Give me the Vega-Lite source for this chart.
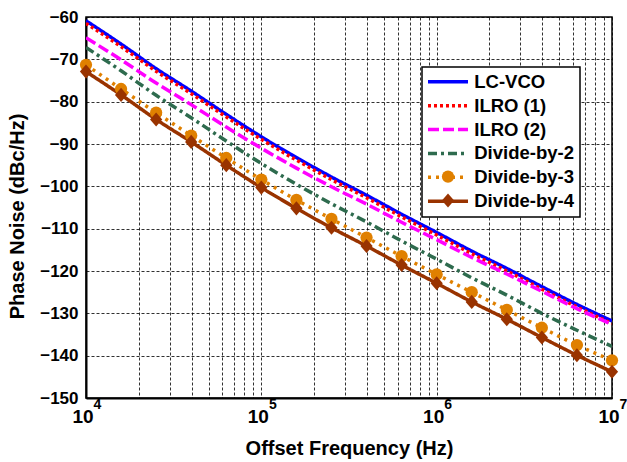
{
  "$schema": "https://vega.github.io/schema/vega-lite/v6.json",
  "width": 526,
  "height": 381,
  "autosize": {"type": "none"},
  "padding": {"left": 86, "top": 17, "right": 15, "bottom": 64},
  "background": "white",
  "config": {
    "font": "Liberation Sans",
    "view": {"stroke": "black", "strokeWidth": 1.5},
    "axis": {
      "labelFont": "Liberation Sans", "labelFontWeight": "bold", "labelColor": "black",
      "titleFont": "Liberation Sans", "titleFontWeight": "bold", "titleColor": "black",
      "domainColor": "black", "domainWidth": 2,
      "gridColor": "black", "gridDash": [3, 2], "gridWidth": 0.9, "gridOpacity": 0.9,
      "ticks": false
    },
    "legend": {"labelFont": "Liberation Sans", "labelFontWeight": "bold", "labelColor": "black", "labelFontSize": 18.5, "strokeWidth": 1.5}
  },
  "resolve": {"axis": {"x": "independent"}},
  "data": {"values": [
    {"f": 10000, "pn": -60.9, "s": "LC-VCO"},
    {"f": 15849, "pn": -66.4, "s": "LC-VCO"},
    {"f": 25119, "pn": -72.2, "s": "LC-VCO"},
    {"f": 39811, "pn": -77.5, "s": "LC-VCO"},
    {"f": 63096, "pn": -83.0, "s": "LC-VCO"},
    {"f": 100000, "pn": -88.3, "s": "LC-VCO"},
    {"f": 158489, "pn": -93.2, "s": "LC-VCO"},
    {"f": 251189, "pn": -97.8, "s": "LC-VCO"},
    {"f": 398107, "pn": -102.1, "s": "LC-VCO"},
    {"f": 630957, "pn": -106.6, "s": "LC-VCO"},
    {"f": 1000000, "pn": -110.9, "s": "LC-VCO"},
    {"f": 1584893, "pn": -115.3, "s": "LC-VCO"},
    {"f": 2511886, "pn": -119.4, "s": "LC-VCO"},
    {"f": 3981072, "pn": -123.7, "s": "LC-VCO"},
    {"f": 6309573, "pn": -127.9, "s": "LC-VCO"},
    {"f": 10000000, "pn": -131.8, "s": "LC-VCO"},
    {"f": 10000, "pn": -61.5, "s": "ILRO (1)"},
    {"f": 15849, "pn": -67.0, "s": "ILRO (1)"},
    {"f": 25119, "pn": -72.8, "s": "ILRO (1)"},
    {"f": 39811, "pn": -78.1, "s": "ILRO (1)"},
    {"f": 63096, "pn": -83.6, "s": "ILRO (1)"},
    {"f": 100000, "pn": -88.9, "s": "ILRO (1)"},
    {"f": 158489, "pn": -93.8, "s": "ILRO (1)"},
    {"f": 251189, "pn": -98.4, "s": "ILRO (1)"},
    {"f": 398107, "pn": -102.7, "s": "ILRO (1)"},
    {"f": 630957, "pn": -107.2, "s": "ILRO (1)"},
    {"f": 1000000, "pn": -111.5, "s": "ILRO (1)"},
    {"f": 1584893, "pn": -115.9, "s": "ILRO (1)"},
    {"f": 2511886, "pn": -120.0, "s": "ILRO (1)"},
    {"f": 3981072, "pn": -124.3, "s": "ILRO (1)"},
    {"f": 6309573, "pn": -128.5, "s": "ILRO (1)"},
    {"f": 10000000, "pn": -132.4, "s": "ILRO (1)"},
    {"f": 10000, "pn": -64.9, "s": "ILRO (2)"},
    {"f": 15849, "pn": -70.1, "s": "ILRO (2)"},
    {"f": 25119, "pn": -75.6, "s": "ILRO (2)"},
    {"f": 39811, "pn": -80.7, "s": "ILRO (2)"},
    {"f": 63096, "pn": -86.0, "s": "ILRO (2)"},
    {"f": 100000, "pn": -91.0, "s": "ILRO (2)"},
    {"f": 158489, "pn": -95.7, "s": "ILRO (2)"},
    {"f": 251189, "pn": -100.1, "s": "ILRO (2)"},
    {"f": 398107, "pn": -104.2, "s": "ILRO (2)"},
    {"f": 630957, "pn": -108.5, "s": "ILRO (2)"},
    {"f": 1000000, "pn": -112.6, "s": "ILRO (2)"},
    {"f": 1584893, "pn": -116.8, "s": "ILRO (2)"},
    {"f": 2511886, "pn": -120.7, "s": "ILRO (2)"},
    {"f": 3981072, "pn": -124.8, "s": "ILRO (2)"},
    {"f": 6309573, "pn": -128.9, "s": "ILRO (2)"},
    {"f": 10000000, "pn": -132.6, "s": "ILRO (2)"},
    {"f": 10000, "pn": -67.2, "s": "Divide-by-2"},
    {"f": 15849, "pn": -72.7, "s": "Divide-by-2"},
    {"f": 25119, "pn": -78.5, "s": "Divide-by-2"},
    {"f": 39811, "pn": -83.8, "s": "Divide-by-2"},
    {"f": 63096, "pn": -89.3, "s": "Divide-by-2"},
    {"f": 100000, "pn": -94.6, "s": "Divide-by-2"},
    {"f": 158489, "pn": -99.5, "s": "Divide-by-2"},
    {"f": 251189, "pn": -104.1, "s": "Divide-by-2"},
    {"f": 398107, "pn": -108.4, "s": "Divide-by-2"},
    {"f": 630957, "pn": -112.9, "s": "Divide-by-2"},
    {"f": 1000000, "pn": -117.2, "s": "Divide-by-2"},
    {"f": 1584893, "pn": -121.6, "s": "Divide-by-2"},
    {"f": 2511886, "pn": -125.7, "s": "Divide-by-2"},
    {"f": 3981072, "pn": -130.0, "s": "Divide-by-2"},
    {"f": 6309573, "pn": -134.0, "s": "Divide-by-2"},
    {"f": 10000000, "pn": -137.8, "s": "Divide-by-2"},
    {"f": 10000, "pn": -71.3, "s": "Divide-by-3"},
    {"f": 15849, "pn": -77.0, "s": "Divide-by-3"},
    {"f": 25119, "pn": -82.6, "s": "Divide-by-3"},
    {"f": 39811, "pn": -88.0, "s": "Divide-by-3"},
    {"f": 63096, "pn": -93.3, "s": "Divide-by-3"},
    {"f": 100000, "pn": -98.4, "s": "Divide-by-3"},
    {"f": 158489, "pn": -103.2, "s": "Divide-by-3"},
    {"f": 251189, "pn": -107.7, "s": "Divide-by-3"},
    {"f": 398107, "pn": -112.1, "s": "Divide-by-3"},
    {"f": 630957, "pn": -116.5, "s": "Divide-by-3"},
    {"f": 1000000, "pn": -120.8, "s": "Divide-by-3"},
    {"f": 1584893, "pn": -125.0, "s": "Divide-by-3"},
    {"f": 2511886, "pn": -129.2, "s": "Divide-by-3"},
    {"f": 3981072, "pn": -133.4, "s": "Divide-by-3"},
    {"f": 6309573, "pn": -137.5, "s": "Divide-by-3"},
    {"f": 10000000, "pn": -141.1, "s": "Divide-by-3"},
    {"f": 10000, "pn": -72.9, "s": "Divide-by-4"},
    {"f": 15849, "pn": -78.4, "s": "Divide-by-4"},
    {"f": 25119, "pn": -84.2, "s": "Divide-by-4"},
    {"f": 39811, "pn": -89.5, "s": "Divide-by-4"},
    {"f": 63096, "pn": -95.0, "s": "Divide-by-4"},
    {"f": 100000, "pn": -100.3, "s": "Divide-by-4"},
    {"f": 158489, "pn": -105.2, "s": "Divide-by-4"},
    {"f": 251189, "pn": -109.8, "s": "Divide-by-4"},
    {"f": 398107, "pn": -114.1, "s": "Divide-by-4"},
    {"f": 630957, "pn": -118.6, "s": "Divide-by-4"},
    {"f": 1000000, "pn": -122.9, "s": "Divide-by-4"},
    {"f": 1584893, "pn": -127.3, "s": "Divide-by-4"},
    {"f": 2511886, "pn": -131.4, "s": "Divide-by-4"},
    {"f": 3981072, "pn": -135.7, "s": "Divide-by-4"},
    {"f": 6309573, "pn": -139.9, "s": "Divide-by-4"},
    {"f": 10000000, "pn": -143.8, "s": "Divide-by-4"}
  ]},
  "encoding": {
    "y": {
      "field": "pn", "type": "quantitative",
      "scale": {"domain": [-150, -60], "nice": false},
      "axis": {
        "values": [-150, -140, -130, -120, -110, -100, -90, -80, -70, -60],
        "labelFontSize": 17, "labelPadding": 8,
        "title": "Phase Noise (dBc/Hz)", "titleFontSize": 20, "titlePadding": 12, "titleY": 199,
        "grid": true
      }
    }
  },
  "layer": [
    {
      "mark": {"type": "line", "strokeWidth": 3.5, "interpolate": "monotone", "clip": true},
      "encoding": {
        "x": {
          "field": "f", "type": "quantitative",
          "scale": {"type": "log", "domain": [10000, 10000000], "nice": false},
          "axis": {
            "orient": "bottom",
            "values": [10000, 20000, 30000, 40000, 50000, 60000, 70000, 80000, 90000, 100000, 200000, 300000, 400000, 500000, 600000, 700000, 800000, 900000, 1000000, 2000000, 3000000, 4000000, 5000000, 6000000, 7000000, 8000000, 9000000, 10000000],
            "labelExpr": "datum.value == 10000 || datum.value == 100000 || datum.value == 1000000 || datum.value == 10000000 ? '10' : ''",
            "labelFontSize": 19, "labelPadding": 9, "labelOffset": -3.5, "labelOverlap": false, "labelFlush": false,
            "title": "Offset Frequency (Hz)", "titleFontSize": 20, "titlePadding": 12,
            "grid": true
          }
        },
        "color": {
          "field": "s", "type": "nominal",
          "scale": {"domain": ["LC-VCO", "ILRO (1)", "ILRO (2)", "Divide-by-2", "Divide-by-3", "Divide-by-4"],
                    "range": ["#0000FF", "#FF0000", "#FF00FF", "#2E6B4E", "#E08000", "#993300"]},
          "legend": {
            "title": null, "orient": "none", "legendX": 336, "legendY": 50,
            "padding": 5.5, "strokeColor": "black", "fillColor": "white",
            "symbolType": "M-4,0H4", "symbolSize": 100, "symbolStrokeWidth": 3.5,
            "symbolOffset": 11.25, "labelOffset": 17, "rowPadding": 4.9,
            "labelFontSize": 18.5, "labelLimit": 200
          }
        },
        "strokeDash": {
          "field": "s", "type": "nominal",
          "scale": {"domain": ["LC-VCO", "ILRO (1)", "ILRO (2)", "Divide-by-2", "Divide-by-3", "Divide-by-4"],
                    "range": [[1, 0], [3, 3], [11, 4], [9, 4, 3, 4], [3, 5], [1, 0]]}
        }
      }
    },
    {
      "transform": [{"filter": {"field": "s", "oneOf": ["Divide-by-3", "Divide-by-4"]}}],
      "mark": {"type": "point", "filled": true, "opacity": 1, "strokeWidth": 0, "size": 150},
      "encoding": {
        "x": {
          "field": "f", "type": "quantitative",
          "scale": {"type": "log", "domain": [10000, 10000000], "nice": false},
          "axis": {
            "orient": "bottom",
            "values": [10000, 100000, 1000000, 10000000],
            "labelExpr": "datum.value == 10000 ? '4' : datum.value == 100000 ? '5' : datum.value == 1000000 ? '6' : '7'",
            "labelFontSize": 14, "labelPadding": -1, "labelOffset": 11,
            "labelOverlap": false, "labelFlush": false,
            "domain": false, "grid": false, "title": null
          }
        },
        "fill": {
          "field": "s", "type": "nominal",
          "scale": {"domain": ["Divide-by-3", "Divide-by-4"], "range": ["#E08000", "#993300"]},
          "legend": {
            "title": null, "orient": "none", "legendX": 336, "legendY": 144.8,
            "padding": 5.5, "symbolSize": 150, "symbolStrokeWidth": 0,
            "symbolOffset": 11.25, "labelOffset": 17, "rowPadding": 4.9,
            "labelFontSize": 18.5, "labelOpacity": 0, "labelExpr": "' '", "labelLimit": 200
          }
        },
        "shape": {
          "field": "s", "type": "nominal",
          "scale": {"domain": ["Divide-by-3", "Divide-by-4"], "range": ["circle", "M0,-1.15L1,0L0,1.15L-1,0Z"]}
        }
      }
    }
  ]
}
